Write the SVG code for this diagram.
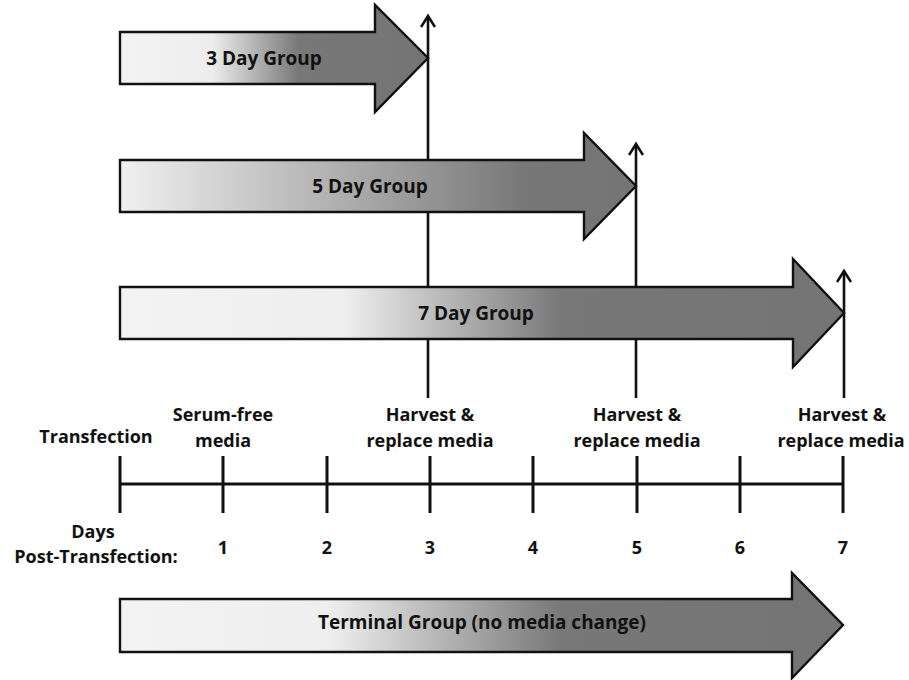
<svg xmlns="http://www.w3.org/2000/svg" width="909" height="680" viewBox="0 0 909 680">
<style>
.arrow{stroke:#111;stroke-width:2.4;stroke-linejoin:miter}
.lbl{font-family:"Open Sans","Liberation Sans",sans-serif;font-weight:bold;fill:#111;text-anchor:middle}
.grp{font-size:19px}
.tl{font-size:18px}
.axis{stroke:#111;stroke-width:3;fill:none}
.conn{stroke:#111;stroke-width:2.6;fill:none}
</style>
<defs>
<linearGradient id="g3" gradientUnits="userSpaceOnUse" x1="120" y1="0" x2="428" y2="0">
<stop offset="0" stop-color="#f3f3f3"/><stop offset="0.30" stop-color="#ededed"/><stop offset="0.58" stop-color="#787878"/><stop offset="1" stop-color="#747474"/>
</linearGradient>
<linearGradient id="g5" gradientUnits="userSpaceOnUse" x1="120" y1="0" x2="636" y2="0">
<stop offset="0" stop-color="#f0f0f0"/><stop offset="0.78" stop-color="#787878"/><stop offset="1" stop-color="#747474"/>
</linearGradient>
<linearGradient id="g7" gradientUnits="userSpaceOnUse" x1="120" y1="0" x2="844" y2="0">
<stop offset="0" stop-color="#f3f3f3"/><stop offset="0.31" stop-color="#eeeeee"/><stop offset="0.61" stop-color="#787878"/><stop offset="1" stop-color="#747474"/>
</linearGradient>
<linearGradient id="gT" gradientUnits="userSpaceOnUse" x1="120" y1="0" x2="843" y2="0">
<stop offset="0" stop-color="#f3f3f3"/><stop offset="0.29" stop-color="#eeeeee"/><stop offset="0.61" stop-color="#787878"/><stop offset="1" stop-color="#747474"/>
</linearGradient>
<marker id="up" markerWidth="16" markerHeight="16" refX="13" refY="8" orient="auto" markerUnits="userSpaceOnUse" viewBox="0 0 16 16">
<path d="M2,1 L13,8 L2,15" fill="none" stroke="#111" stroke-width="2.6"/>
</marker>
</defs>
<rect width="909" height="680" fill="#fff"/>

<g id="connectors">
<line class="conn" x1="428" y1="398" x2="428" y2="16" marker-end="url(#up)"/>
<line class="conn" x1="636" y1="398" x2="636" y2="144" marker-end="url(#up)"/>
<line class="conn" x1="844" y1="398" x2="844" y2="271" marker-end="url(#up)"/>
</g>

<g id="day3">
<polygon class="arrow" fill="url(#g3)" points="120,32 375,32 375,5 428,58 375,112 375,84 120,84"/>
<text class="lbl grp" x="264" y="65">3 Day Group</text>
</g>
<g id="day5">
<polygon class="arrow" fill="url(#g5)" points="120,160 584,160 584,133 636,186 584,239 584,212 120,212"/>
<text class="lbl grp" x="370" y="193">5 Day Group</text>
</g>
<g id="day7">
<polygon class="arrow" fill="url(#g7)" points="120,287 793,287 793,259 844,313 793,367 793,339 120,339"/>
<text class="lbl grp" x="476" y="320">7 Day Group</text>
</g>
<g id="terminal">
<polygon class="arrow" fill="url(#gT)" points="120,599 792,599 792,573 843,625 792,678 792,652 120,652"/>
<text class="lbl grp" x="482" y="629">Terminal Group (no media change)</text>
</g>

<g id="timeline">
<line class="axis" x1="120" y1="484" x2="843" y2="484"/>
<line class="axis" x1="120" y1="456" x2="120" y2="513"/>
<line class="axis" x1="223" y1="456" x2="223" y2="513"/>
<line class="axis" x1="327" y1="456" x2="327" y2="513"/>
<line class="axis" x1="430" y1="456" x2="430" y2="513"/>
<line class="axis" x1="533" y1="456" x2="533" y2="513"/>
<line class="axis" x1="637" y1="456" x2="637" y2="513"/>
<line class="axis" x1="740" y1="456" x2="740" y2="513"/>
<line class="axis" x1="843" y1="456" x2="843" y2="513"/>
</g>

<g id="labels-top">
<text class="lbl tl" x="96" y="443">Transfection</text>
<text class="lbl tl" x="223" y="421">Serum-free</text>
<text class="lbl tl" x="223" y="447">media</text>
<text class="lbl tl" x="430" y="421">Harvest &amp;</text>
<text class="lbl tl" x="430" y="447">replace media</text>
<text class="lbl tl" x="637" y="421">Harvest &amp;</text>
<text class="lbl tl" x="637" y="447">replace media</text>
<text class="lbl tl" x="842" y="421">Harvest &amp;</text>
<text class="lbl tl" x="841" y="447">replace media</text>
</g>

<g id="labels-bottom">
<text class="lbl tl" x="93" y="538">Days</text>
<text class="lbl tl" x="96" y="563">Post-Transfection:</text>
<text class="lbl tl" x="223" y="554">1</text>
<text class="lbl tl" x="327" y="554">2</text>
<text class="lbl tl" x="430" y="554">3</text>
<text class="lbl tl" x="533" y="554">4</text>
<text class="lbl tl" x="637" y="554">5</text>
<text class="lbl tl" x="740" y="554">6</text>
<text class="lbl tl" x="843" y="554">7</text>
</g>
</svg>
